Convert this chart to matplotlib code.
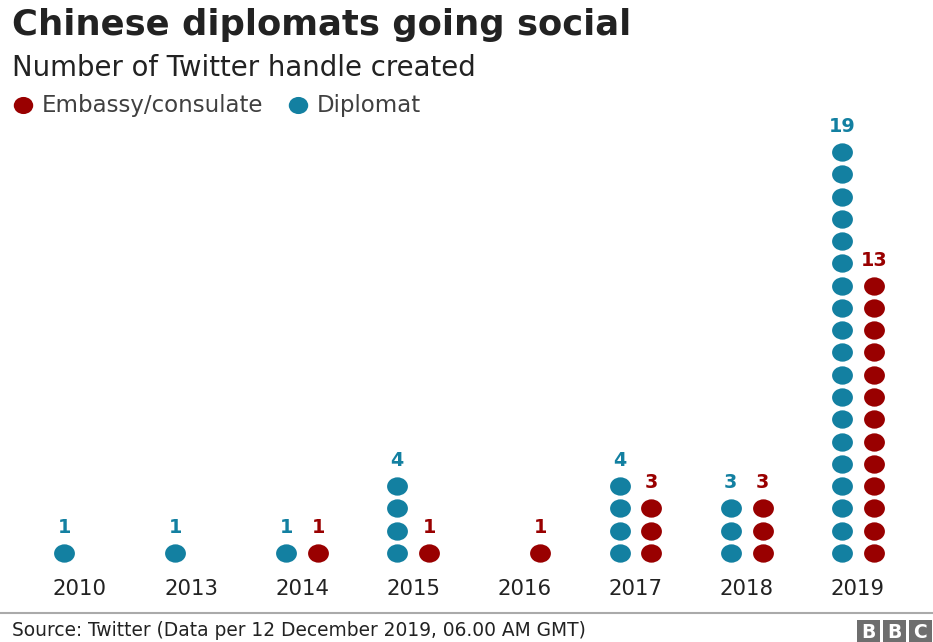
import matplotlib
matplotlib.use("Agg")
import matplotlib.pyplot as plt
from matplotlib.patches import Rectangle
from matplotlib.path import Path
from matplotlib.transforms import Affine2D

years = ["2010", "2013", "2014", "2015", "2016", "2017", "2018", "2019"]
diplomat = [1, 1, 1, 4, 0, 4, 3, 19]
embassy = [0, 0, 1, 1, 1, 3, 3, 13]

C_DIP = "#1380A1"
C_EMB = "#990000"
FONT = "DejaVu Sans"

ELL = Path.unit_circle().transformed(Affine2D().scale(1.0, 0.88))

W, H = 933, 642
fig = plt.figure(figsize=(W / 100, H / 100), dpi=100)
fig.patch.set_facecolor("white")

ov = fig.add_axes([0, 0, 1, 1])
ov.set_xlim(0, W)
ov.set_ylim(H, 0)
ov.axis("off")

def px_to_fig_y(py):
    return 1 - py / H

ax_top_px, ax_bot_px = 120, 600
ax = fig.add_axes([0, px_to_fig_y(ax_bot_px), 1, (ax_bot_px - ax_top_px) / H])
ax.axis("off")
x0, dx = 80.0, 111.1
y0, dy = 553.0, 22.28
ax.set_xlim((0 - x0) / dx, (W - x0) / dx)
ax.set_ylim((y0 - ax_bot_px) / dy, (y0 - ax_top_px) / dy)

off = 16 / dx
ms = 15.0
lab_off = 0.9
for i, (yr, d, e) in enumerate(zip(years, diplomat, embassy)):
    if d > 0:
        ax.plot([i - off] * d, list(range(d)), linestyle="none", marker=ELL,
                color=C_DIP, ms=ms, mew=0)
        ax.text(i - off, d - 1 + lab_off, str(d), color=C_DIP, fontsize=13.8,
                fontweight="bold", ha="center", va="baseline", family=FONT)
    if e > 0:
        ax.plot([i + off] * e, list(range(e)), linestyle="none", marker=ELL,
                color=C_EMB, ms=ms, mew=0)
        ax.text(i + off, e - 1 + lab_off, str(e), color=C_EMB, fontsize=13.8,
                fontweight="bold", ha="center", va="baseline", family=FONT)
    ax.text(i, (y0 - 595) / dy, yr, color="#222222", fontsize=15.3,
            ha="center", va="baseline", family=FONT)

ov.text(12, 35, "Chinese diplomats going social", fontsize=25.5, fontweight="bold",
        color="#222222", ha="left", va="baseline", family=FONT)
ov.text(12, 76, "Number of Twitter handle created", fontsize=19.8,
        color="#222222", ha="left", va="baseline", family=FONT)

ov.plot([22.5], [104.5], linestyle="none", marker=ELL, color=C_EMB, ms=14, mew=0)
ov.text(42, 112, "Embassy/consulate", fontsize=16.5, color="#404040",
        ha="left", va="baseline", family=FONT)
ov.plot([298], [104.5], linestyle="none", marker=ELL, color=C_DIP, ms=14, mew=0)
ov.text(317, 112, "Diplomat", fontsize=16.5, color="#404040",
        ha="left", va="baseline", family=FONT)

ov.plot([0, W], [613, 613], color="#aaaaaa", lw=1.5)
ov.text(12, 636, "Source: Twitter (Data per 12 December 2019, 06.00 AM GMT)",
        fontsize=13.4, color="#222222", ha="left", va="baseline", family=FONT)
bx = 857
for letter in "BBC":
    ov.add_patch(Rectangle((bx, 620), 23, 22, color="#6e6e6e", lw=0))
    ov.text(bx + 11.5, 637.5, letter, fontsize=13.5, fontweight="bold",
            color="white", ha="center", va="baseline", family=FONT)
    bx += 26

fig.savefig("out.png", dpi=100, facecolor="white")
